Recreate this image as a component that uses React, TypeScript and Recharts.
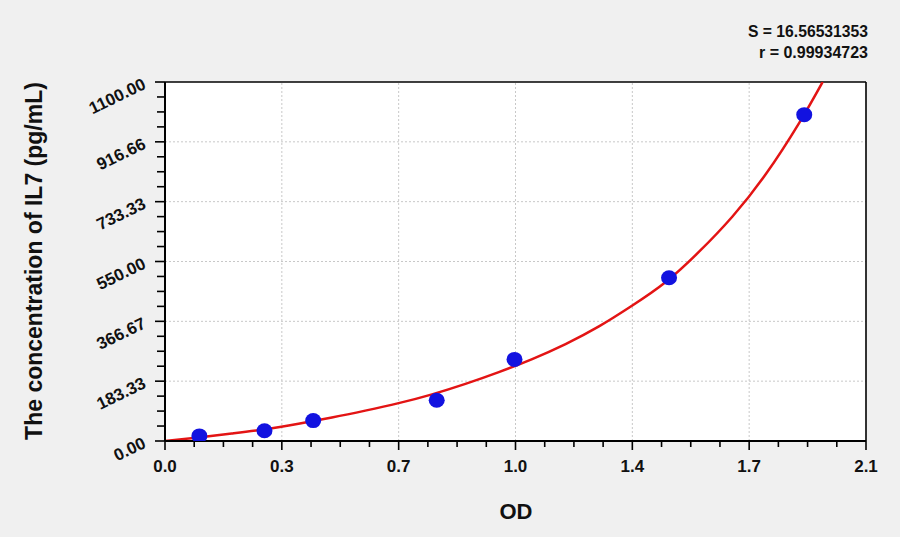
import React from "react";
import {
  ComposedChart,
  Line,
  Scatter,
  XAxis,
  YAxis,
  CartesianGrid,
  ReferenceLine,
} from "recharts";

const X_MAJOR = [0, 0.35, 0.7, 1.05, 1.4, 1.75, 2.1];
const X_LABELS = ["0.0", "0.3", "0.7", "1.0", "1.4", "1.7", "2.1"];
const Y_MAJOR = [0, 183.33, 366.67, 550, 733.33, 916.66, 1100];
const Y_LABELS = ["0.00", "183.33", "366.67", "550.00", "733.33", "916.66", "1100.00"];

const STD_OD = [0.103, 0.298, 0.444, 0.814, 1.047, 1.51, 1.915];
const STD_CONC = [15.6, 31.25, 62.5, 125, 250, 500, 1000];

const FIT_OD = [0, 0.1, 0.2, 0.3, 0.4, 0.5, 0.6, 0.7, 0.8, 0.9, 1.0, 1.1, 1.2, 1.3, 1.4, 1.5, 1.6, 1.7, 1.8, 1.9, 1.97];
const FIT_CONC = [0, 11, 23, 36, 53, 72, 93, 116, 143, 175, 211, 251, 297, 351, 415, 487, 580, 688, 818, 975, 1100];

const S_TEXT = "S = 16.56531353";
const R_TEXT = "r = 0.99934723";
const X_TITLE = "OD";
const Y_TITLE = "The concentration of IL7 (pg/mL)";

const points = STD_OD.map((x, i) => ({ x, y: STD_CONC[i] }));
const fit = FIT_OD.map((x, i) => ({ x, y: FIT_CONC[i] }));

// minor ticks: 4 subdivisions between major ticks
const subdivide = (major: number[]) => {
  const out: number[] = [];
  for (let i = 0; i < major.length - 1; i++) {
    const a = major[i];
    const b = major[i + 1];
    for (let k = 0; k < 4; k++) out.push(a + ((b - a) * k) / 4);
  }
  out.push(major[major.length - 1]);
  return out;
};
const X_TICKS = subdivide(X_MAJOR);
const Y_TICKS = subdivide(Y_MAJOR);

const FONT = "'Liberation Sans', Arial, sans-serif";

const XTick = (props: any) => {
  const { x, y, index } = props;
  const major = index % 4 === 0;
  return (
    <g>
      <line x1={x} x2={x} y1={y} y2={y + (major ? 9 : 6)} stroke="#000" strokeWidth={1.6} />
      {major && (
        <text
          x={x}
          y={y + 31}
          textAnchor="middle"
          fontFamily={FONT}
          fontWeight="bold"
          fontSize={17}
          fill="#111"
        >
          {X_LABELS[index / 4]}
        </text>
      )}
    </g>
  );
};

const YTick = (props: any) => {
  const { x, y, index } = props;
  const major = index % 4 === 0;
  const tx = x - 18;
  const ty = y + 6;
  return (
    <g>
      <line x1={x} x2={x - (major ? 10 : 8)} y1={y} y2={y} stroke="#000" strokeWidth={1.6} />
      {major && (
        <text
          x={tx}
          y={ty}
          textAnchor="end"
          fontFamily={FONT}
          fontWeight="bold"
          fontSize={17}
          fill="#111"
          transform={`rotate(-26, ${tx}, ${ty})`}
        >
          {Y_LABELS[index / 4]}
        </text>
      )}
    </g>
  );
};

export default function App() {
  return (
    <div
      style={{
        position: "absolute",
        left: 0,
        top: 0,
        width: 900,
        height: 537,
        background: "#f0f0f0",
        overflow: "hidden",
      }}
    >
      <ComposedChart
        width={900}
        height={537}
        margin={{ top: 82, right: 34, bottom: 66, left: 85 }}
      >
        <CartesianGrid fill="#ffffff" horizontal={false} vertical={false} />
        {X_MAJOR.slice(1, -1).map((v) => (
          <ReferenceLine key={"vx" + v} x={v} stroke="#c8c8c8" strokeDasharray="2 2" strokeWidth={1} />
        ))}
        {Y_MAJOR.slice(1, -1).map((v) => (
          <ReferenceLine key={"hy" + v} y={v} stroke="#c8c8c8" strokeDasharray="2 2" strokeWidth={1} />
        ))}
        <ReferenceLine y={1100} stroke="#000" strokeWidth={1.6} />
        <ReferenceLine x={2.1} stroke="#000" strokeWidth={1.6} />
        <XAxis
          type="number"
          dataKey="x"
          domain={[0, 2.1]}
          ticks={X_TICKS}
          interval={0}
          allowDataOverflow
          height={30}
          axisLine={{ stroke: "#000", strokeWidth: 2 }}
          tickLine={false}
          tickSize={0}
          tickMargin={0}
          tick={<XTick />}
        />
        <YAxis
          type="number"
          dataKey="y"
          domain={[0, 1100]}
          ticks={Y_TICKS}
          interval={0}
          allowDataOverflow
          width={80}
          axisLine={{ stroke: "#000", strokeWidth: 2 }}
          tickLine={false}
          tickSize={0}
          tickMargin={0}
          tick={<YTick />}
        />
        <Line
          data={fit}
          dataKey="y"
          type="natural"
          stroke="#e31414"
          strokeWidth={2.5}
          dot={false}
          isAnimationActive={false}
        />
        <Scatter
          data={points}
          fill="#1212e0"
          isAnimationActive={false}
          shape={(p: any) => <ellipse cx={p.cx} cy={p.cy} rx={8} ry={7.5} fill="#1212e0" />}
        />
      </ComposedChart>
      <svg
        width={900}
        height={537}
        style={{ position: "absolute", left: 0, top: 0, pointerEvents: "none" }}
      >
        <text
          transform="translate(42,261) rotate(-90)"
          textAnchor="middle"
          fontFamily={FONT}
          fontWeight="bold"
          fontSize={23}
          fill="#111"
        >
          {Y_TITLE}
        </text>
        <text x={516} y={519} textAnchor="middle" fontFamily={FONT} fontWeight="bold" fontSize={22} fill="#111">
          {X_TITLE}
        </text>
        <text
          x={748}
          y={37}
          fontFamily={FONT}
          fontWeight="bold"
          fontSize={17}
          fill="#111"
          textLength={120}
          lengthAdjust="spacingAndGlyphs"
        >
          {S_TEXT}
        </text>
        <text
          x={759}
          y={58}
          fontFamily={FONT}
          fontWeight="bold"
          fontSize={17}
          fill="#111"
          textLength={109}
          lengthAdjust="spacingAndGlyphs"
        >
          {R_TEXT}
        </text>
      </svg>
    </div>
  );
}
